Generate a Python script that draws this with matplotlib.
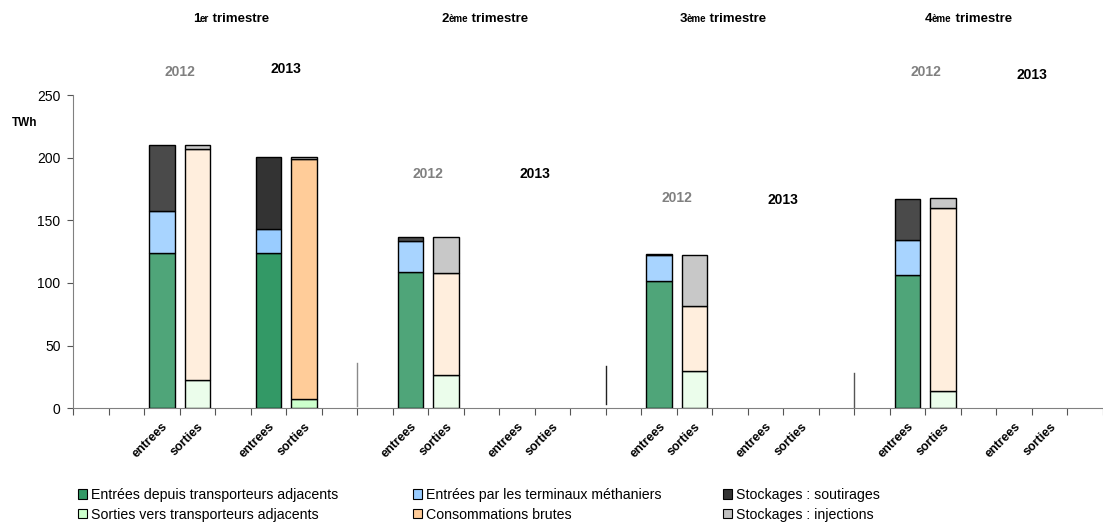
import matplotlib.pyplot as plt
from matplotlib.patches import Patch
from matplotlib.offsetbox import TextArea, HPacker, AnnotationBbox

plt.rcParams['font.family'] = ['Liberation Sans', 'DejaVu Sans']

# category axis (29 slots, blanks between quarters)
categories = ['', '', 'entrees', 'sorties', '', 'entrees', 'sorties', '',
              '', 'entrees', 'sorties', '', 'entrees', 'sorties', '',
              '', 'entrees', 'sorties', '', 'entrees', 'sorties', '',
              '', 'entrees', 'sorties', '', 'entrees', 'sorties', '']

periods = ['2012', '2013', '2012', '2013', '2012', '2013', '2012', '2013']

# TWh
entrees_adjacents = [124.2, 123.7, 109.1, 0, 101.6, 0, 106.4, 0]
entrees_terminaux = [33.3, 19.2, 24.4, 0, 20.8, 0, 28.2, 0]
stockages_soutirages = [52.7, 57.7, 3.5, 0, 0.5, 0, 32.5, 0]
sorties_adjacents = [22.3, 7.7, 26.6, 0, 29.8, 0, 14.1, 0]
consommations = [184.7, 191.3, 81.1, 0, 52.1, 0, 145.8, 0]
stockages_injections = [3.4, 1.8, 29.3, 0, 40.7, 0, 8.0, 0]

quarter_nums = ['1', '2', '3', '4']
quarter_sups = ['er', 'ème', 'ème', 'ème']
quarter_x = [4.45, 11.6, 18.3, 25.2]
year_label_y = [268, 271, 187, 187, 168, 166, 268, 266]
separators = [8, 15, 22]
separator_spans = [(2, 36), (3.5, 34), (0, 28)]
separator_colors = ['#8a8a8a', '#222222', '#555555']

colors = {
    '2013': {'adj_in': '#339966', 'lng': '#99ccff', 'sout': '#333333',
             'adj_out': '#ccffcc', 'conso': '#ffcc99', 'inj': '#c0c0c0'},
    '2012': {'adj_in': '#4fa579', 'lng': '#a8d4ff', 'sout': '#4a4a4a',
             'adj_out': '#ebfdeb', 'conso': '#ffeedd', 'inj': '#c8c8c8'},
}

fig = plt.figure(figsize=(11.03, 5.24), dpi=100)
ax = fig.add_axes([0.0662, 0.2208, 0.9338, 0.5979])

x_in = [i for i, c in enumerate(categories) if c == 'entrees']
x_out = [i for i, c in enumerate(categories) if c == 'sorties']

for k, year in enumerate(periods):
    col = colors[year]
    stacks = [
        (x_in[k], [(entrees_adjacents[k], 'adj_in'), (entrees_terminaux[k], 'lng'),
                   (stockages_soutirages[k], 'sout')]),
        (x_out[k], [(sorties_adjacents[k], 'adj_out'), (consommations[k], 'conso'),
                    (stockages_injections[k], 'inj')]),
    ]
    for xpos, parts in stacks:
        bottom = 0
        for v, key in parts:
            if v > 0:
                ax.bar(xpos + 0.5, v, width=0.72, bottom=bottom, color=col[key],
                       edgecolor='black', linewidth=1, zorder=3)
            bottom += v

for s, (lo, hi), c in zip(separators, separator_spans, separator_colors):
    ax.plot([s, s], [lo, hi], color=c, linewidth=1, zorder=2)

ax.set_xlim(0, len(categories))
ax.set_ylim(0, 250)
ax.set_yticks(range(0, 251, 50))
ax.set_xticks(range(0, len(categories) + 1))
ax.tick_params(axis='x', which='major', labelbottom=False, length=5, color='#555555')
centers = [i + 0.5 for i, c in enumerate(categories) if c]
ax.set_xticks(centers, minor=True)
ax.set_xticklabels([c for c in categories if c], minor=True, rotation=45, ha='right',
                   va='top', rotation_mode='anchor', fontweight='bold', fontsize=9)
ax.tick_params(axis='x', which='minor', length=0, pad=9)
ax.tick_params(axis='y', length=4, color='#555555', labelsize=10, pad=5)
for side in ['top', 'right']:
    ax.spines[side].set_visible(False)
for side in ['left', 'bottom']:
    ax.spines[side].set_color('#808080')

# quarter titles
for num, sup, qx in zip(quarter_nums, quarter_sups, quarter_x):
    box = HPacker(children=[
        TextArea(num, textprops=dict(size=9.5, weight='bold')),
        TextArea(sup, textprops=dict(size=7, weight='bold')),
        TextArea(' trimestre', textprops=dict(size=9.5, weight='bold')),
    ], align='baseline', pad=0, sep=0)
    ab = AnnotationBbox(box, (qx, 311), xycoords='data', frameon=False,
                        annotation_clip=False, box_alignment=(0.5, 0.5))
    ax.add_artist(ab)

# year labels
for k, year in enumerate(periods):
    ax.text(x_out[k], year_label_y[k], year, ha='center', va='center',
            fontsize=10, fontweight='bold',
            color='#808080' if year == '2012' else 'black', clip_on=False)

fig.text(24.5 / 1103, 1 - 123 / 524, 'TWh', ha='center', va='center',
         fontsize=8.5, fontweight='bold')

leg_cols = [
    (['Entrées depuis transporteurs adjacents', 'Sorties vers transporteurs adjacents'],
     ['adj_in', 'adj_out'], 78),
    (['Entrées par les terminaux méthaniers', 'Consommations brutes'],
     ['lng', 'conso'], 413),
    (['Stockages : soutirages', 'Stockages : injections'], ['sout', 'inj'], 723),
]
for labels, keys, px in leg_cols:
    handles = [Patch(facecolor=colors['2013'][k], edgecolor='black', linewidth=0.8)
               for k in keys]
    fig.legend(handles, labels, loc='upper left',
               bbox_to_anchor=(px / 1103, 1 - 488 / 524), frameon=False,
               fontsize=10.2, handlelength=0.65, handleheight=0.65,
               handletextpad=0.3, borderpad=0, borderaxespad=0,
               labelspacing=0.4)

fig.savefig('out.png', dpi=100)
